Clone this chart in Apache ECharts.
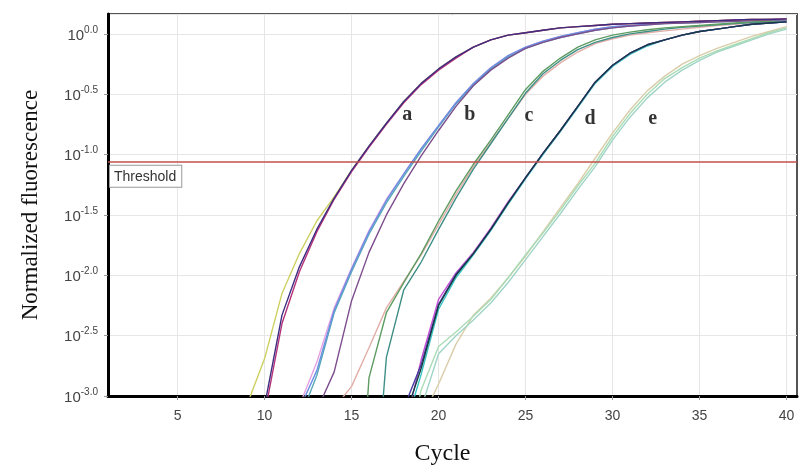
<!DOCTYPE html>
<html>
<head>
<meta charset="utf-8">
<script src="https://cdn.jsdelivr.net/npm/echarts@6/dist/echarts.min.js"></script>
<style>
  html, body { margin: 0; padding: 0; background: #fff; }
  #chart { width: 800px; height: 471px; }
</style>
</head>
<body>
<div id="chart"></div>
<script>
// log10 of normalized fluorescence, one value per cycle
const xTicks = [5, 10, 15, 20, 25, 30, 35, 40];
const threshold = -1.06;

// group a, from cycle 9
const startA = 9;
const aYellow  = [-3.07, -2.69, -2.15, -1.82, -1.55, -1.35, -1.13, -0.93, -0.74, -0.56, -0.41, -0.29, -0.19, -0.11, -0.05, -0.01, 0.01, 0.03, 0.05, 0.06, 0.07, 0.08, 0.085, 0.09, 0.095, 0.10, 0.105, 0.11, 0.115, 0.12, 0.12, 0.125];
const aMagenta = [-3.7, -3.15, -2.40, -1.97, -1.64, -1.37, -1.14, -0.94, -0.75, -0.57, -0.42, -0.30, -0.20, -0.11, -0.05, -0.01, 0.01, 0.03, 0.05, 0.06, 0.07, 0.08, 0.085, 0.09, 0.095, 0.10, 0.105, 0.11, 0.115, 0.12, 0.12, 0.125];
const aNavy    = [-3.6, -3.08, -2.33, -1.93, -1.62, -1.36, -1.13, -0.93, -0.74, -0.56, -0.41, -0.29, -0.19, -0.11, -0.05, -0.01, 0.01, 0.03, 0.05, 0.06, 0.07, 0.08, 0.085, 0.09, 0.095, 0.10, 0.105, 0.11, 0.115, 0.12, 0.12, 0.125];

// group b, from cycle 12
const startB = 12;
const bPink   = [-3.08, -2.72, -2.27, -1.94, -1.63, -1.37, -1.16, -0.95, -0.76, -0.57, -0.41, -0.28, -0.18, -0.11, -0.06, -0.02, 0.01, 0.04, 0.06, 0.07, 0.08, 0.09, 0.095, 0.10, 0.105, 0.11, 0.115, 0.12, 0.12];
const bTeal   = [-3.2, -2.83, -2.31, -1.97, -1.66, -1.40, -1.18, -0.97, -0.77, -0.58, -0.42, -0.29, -0.19, -0.12, -0.07, -0.03, 0.0, 0.03, 0.05, 0.065, 0.075, 0.085, 0.09, 0.095, 0.10, 0.105, 0.11, 0.115, 0.12];
const bBlue   = [-3.11, -2.79, -2.29, -1.95, -1.64, -1.38, -1.16, -0.95, -0.76, -0.57, -0.41, -0.28, -0.18, -0.11, -0.06, -0.02, 0.01, 0.04, 0.06, 0.07, 0.08, 0.09, 0.095, 0.10, 0.105, 0.11, 0.115, 0.12, 0.12];
const bPurple = [-3.6, -3.12, -2.8, -2.21, -1.81, -1.50, -1.24, -1.01, -0.80, -0.60, -0.43, -0.30, -0.20, -0.12, -0.07, -0.03, 0.0, 0.03, 0.05, 0.065, 0.075, 0.085, 0.09, 0.095, 0.10, 0.105, 0.11, 0.115, 0.12];

// group c, from cycle 14
const startC = 14;
const cSalmon = [-3.1, -2.92, -2.60, -2.27, -2.05, -1.83, -1.58, -1.33, -1.10, -0.90, -0.70, -0.50, -0.35, -0.24, -0.15, -0.08, -0.04, -0.01, 0.01, 0.025, 0.04, 0.055, 0.07, 0.08, 0.09, 0.10, 0.11];
const cGreen  = [-6.0, -5.0, -2.85, -2.31, -2.06, -1.82, -1.55, -1.30, -1.08, -0.88, -0.67, -0.46, -0.31, -0.20, -0.11, -0.05, -0.01, 0.015, 0.035, 0.05, 0.06, 0.07, 0.08, 0.09, 0.10, 0.105, 0.11];
const cTeal   = [-6.0, -5.5, -4.5, -2.68, -2.12, -1.89, -1.62, -1.36, -1.12, -0.91, -0.70, -0.49, -0.33, -0.22, -0.13, -0.07, -0.03, 0.0, 0.02, 0.04, 0.055, 0.065, 0.075, 0.085, 0.095, 0.10, 0.11];

// group d, from cycle 17
const startD = 17;
const dCyan    = [-3.8, -3.3, -2.82, -2.28, -2.02, -1.83, -1.63, -1.41, -1.20, -1.00, -0.81, -0.61, -0.41, -0.27, -0.17, -0.10, -0.05, -0.01, 0.02, 0.04, 0.06, 0.08, 0.09, 0.10];
const dMagenta = [-3.8, -3.3, -2.70, -2.20, -1.98, -1.81, -1.61, -1.39, -1.19, -0.99, -0.80, -0.60, -0.40, -0.26, -0.16, -0.09, -0.05, -0.01, 0.02, 0.04, 0.06, 0.08, 0.09, 0.10];
const dIndigo  = [-3.5, -3.1, -2.74, -2.24, -1.99, -1.82, -1.62, -1.40, -1.19, -0.99, -0.80, -0.60, -0.40, -0.26, -0.16, -0.09, -0.05, -0.01, 0.02, 0.04, 0.06, 0.08, 0.09, 0.10];
const dDark    = [-3.7, -3.2, -2.77, -2.25, -2.00, -1.82, -1.62, -1.40, -1.19, -0.99, -0.80, -0.60, -0.40, -0.26, -0.16, -0.09, -0.05, -0.01, 0.02, 0.04, 0.06, 0.08, 0.09, 0.10];

// group e, from cycle 18
const startE = 18;
const eTan   = [-3.8, -3.2, -2.90, -2.57, -2.33, -2.19, -2.02, -1.84, -1.64, -1.44, -1.24, -1.03, -0.82, -0.63, -0.47, -0.35, -0.25, -0.18, -0.12, -0.07, -0.02, 0.02, 0.06];
const eTeal  = [-3.7, -3.1, -2.65, -2.50, -2.37, -2.23, -2.06, -1.87, -1.68, -1.49, -1.29, -1.10, -0.88, -0.69, -0.53, -0.40, -0.30, -0.22, -0.15, -0.10, -0.05, 0.0, 0.04];
const eGreen = [-3.6, -2.95, -2.59, -2.47, -2.34, -2.20, -2.02, -1.83, -1.65, -1.46, -1.26, -1.07, -0.85, -0.66, -0.50, -0.37, -0.28, -0.20, -0.14, -0.09, -0.04, 0.01, 0.05];

// group letters: [cycle, log value, name]
const groupLabels = [[18.2, -0.67, 'a'], [21.8, -0.67, 'b'], [25.2, -0.68, 'c'], [28.7, -0.70, 'd'], [32.3, -0.70, 'e']];

// drawing order: light curves first, dark ones on top
const curves = [
  [startE, eTan, '#d9cda9'], [startE, eTeal, '#9fd4c6'], [startE, eGreen, '#a9dcb6'],
  [startC, cSalmon, '#e2aea8'], [startC, cTeal, '#3f8f86'], [startC, cGreen, '#5e9c62'],
  [startD, dCyan, '#3cc4c4'], [startD, dMagenta, '#c64fd4'], [startD, dIndigo, '#4a3da4'], [startD, dDark, '#143c42'],
  [startB, bPink, '#e6a2e2'], [startB, bTeal, '#56a8b8'], [startB, bBlue, '#6a8ee2'], [startB, bPurple, '#7d4d8d'],
  [startA, aYellow, '#cdd060'], [startA, aMagenta, '#b5337a'], [startA, aNavy, '#3e2c80'],
];

const series = curves.map(([start, vals, color]) => ({
  type: 'line',
  data: vals.map((v, i) => [start + i, v]),
  showSymbol: false,
  symbol: 'none',
  silent: true,
  clip: true,
  lineStyle: { color, width: 1.4 },
}));

series.push({
  type: 'line',
  data: [],
  markLine: {
    symbol: 'none',
    silent: true,
    animation: false,
    lineStyle: { color: '#c0504d', width: 1.6, type: 'solid' },
    label: {
      show: true,
      position: 'insideStartBottom',
      formatter: 'Threshold',
      distance: [2, 4],
      fontFamily: 'Liberation Sans',
      fontSize: 14,
      color: '#333',
      backgroundColor: '#fff',
      borderColor: '#999',
      borderWidth: 1,
      padding: [4, 5, 3, 4],
    },
    data: [{ yAxis: threshold }],
  },
});

series.push({
  type: 'scatter',
  data: groupLabels.map(d => ({ value: [d[0], d[1]], name: d[2] })),
  symbolSize: 0,
  silent: true,
  label: {
    show: true,
    position: 'inside',
    formatter: p => p.name,
    fontFamily: 'Liberation Serif',
    fontWeight: 'bold',
    fontSize: 20,
    color: '#000',
  },
  z: 5,
});

const chart = echarts.init(document.getElementById('chart'));
chart.setOption({
  animation: false,
  backgroundColor: '#fff',
  grid: { left: 108, right: 3, top: 14, bottom: 75, show: true, borderColor: '#555', borderWidth: 2 },
  xAxis: {
    type: 'value',
    min: 1,
    max: 40.6,
    name: 'Cycle',
    nameLocation: 'middle',
    nameGap: 46,
    nameTextStyle: { fontFamily: 'Liberation Serif', fontSize: 24, color: '#111', padding: [0, 20, 0, 0] },
    axisLine: { show: true, onZero: false, lineStyle: { color: '#000', width: 3 } },
    axisTick: { show: true, length: 4, customValues: xTicks, lineStyle: { color: '#999' } },
    axisLabel: { customValues: xTicks, margin: 13, fontFamily: 'Liberation Sans', fontSize: 14, color: '#444' },
    splitLine: { show: true, lineStyle: { color: '#e6e6e6' } },
  },
  yAxis: {
    type: 'value',
    min: -3,
    max: 0.165,
    interval: 0.5,
    name: 'Normalized fluorescence',
    nameLocation: 'middle',
    nameGap: 66,
    nameTextStyle: { fontFamily: 'Liberation Serif', fontSize: 23, color: '#111' },
    axisLine: { show: true, onZero: false, lineStyle: { color: '#000', width: 3 } },
    axisTick: { show: true, length: 4, lineStyle: { color: '#999' } },
    axisLabel: {
      showMaxLabel: false,
      margin: 10,
      formatter: v => '{b|10}{s|' + v.toFixed(1) + '}',
      rich: {
        b: { fontFamily: 'Liberation Sans', fontSize: 15, color: '#444', lineHeight: 18, verticalAlign: 'bottom' },
        s: { fontFamily: 'Liberation Sans', fontSize: 10, color: '#444', lineHeight: 18, verticalAlign: 'top' },
      },
    },
    splitLine: { show: true, lineStyle: { color: '#e6e6e6' } },
  },
  series,
});
</script>
</body>
</html>
